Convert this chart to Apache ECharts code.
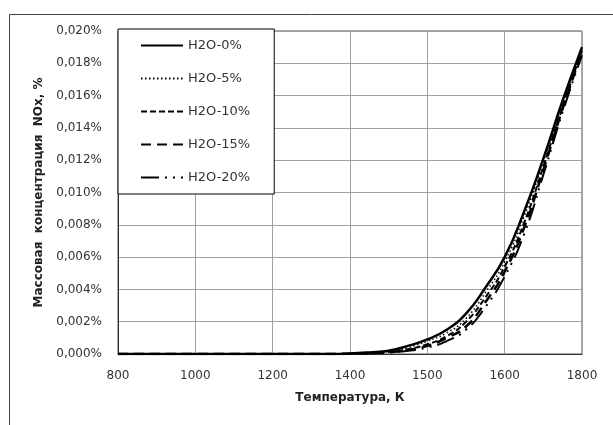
<!DOCTYPE html>
<html>
<head>
<meta charset="utf-8">
<script src="https://cdn.jsdelivr.net/npm/echarts@6/dist/echarts.min.js"></script>
<style>
html,body{margin:0;padding:0;background:#fff;}
#chart{width:613px;height:425px;}
</style>
</head>
<body>
<div id="chart"></div>
<script>
// Temperatures (category axis; labels shown every 4th category)
const temperatures = [800, 850, 900, 950, 1000, 1050, 1100, 1150, 1200, 1250, 1300, 1350,
  1400, 1425, 1450, 1475, 1500, 1525, 1550, 1575, 1600, 1650, 1700, 1750, 1800];

// NOx mass concentration, %
const h2o0  = [0,0,0,0,0,0,0,0,0,0,0,0, 0.00003, 0.0001,  0.0002,  0.0005,  0.0009, 0.0015, 0.0025, 0.0041, 0.0060, 0.0088, 0.0121, 0.0157, 0.0190];
const h2o5  = [0,0,0,0,0,0,0,0,0,0,0,0, 0.00002, 0.00008, 0.00016, 0.0004,  0.0008, 0.0013, 0.0022, 0.0038, 0.0057, 0.0085, 0.0119, 0.0155, 0.0189];
const h2o10 = [0,0,0,0,0,0,0,0,0,0,0,0, 0.00002, 0.00006, 0.00013, 0.0003,  0.0006, 0.0011, 0.0020, 0.0035, 0.0054, 0.0081, 0.0116, 0.0153, 0.0188];
const h2o15 = [0,0,0,0,0,0,0,0,0,0,0,0, 0.00002, 0.00005, 0.00011, 0.00025, 0.0005, 0.0010, 0.0017, 0.0032, 0.0051, 0.0078, 0.0114, 0.0152, 0.0187];
const h2o20 = [0,0,0,0,0,0,0,0,0,0,0,0, 0.00002, 0.00004, 0.0001,  0.0002,  0.0004, 0.0008, 0.0015, 0.0029, 0.0048, 0.0074, 0.0111, 0.0150, 0.0185];

const seriesNames = ['H2O-0%', 'H2O-5%', 'H2O-10%', 'H2O-15%', 'H2O-20%'];
const yTicks = [0, 0.002, 0.004, 0.006, 0.008, 0.010, 0.012, 0.014, 0.016, 0.018, 0.020];

const styles = [
  {width: 2.5, type: 'solid'},
  {width: 1.5, type: [1.5, 2.5]},
  {width: 2, type: [6, 3]},
  {width: 2.5, type: [10, 6]},
  {width: 2, type: [18, 6, 2, 6, 2, 6]}
];
const dataSets = [h2o0, h2o5, h2o10, h2o15, h2o20];

const FONT = 'DejaVu Sans';
const chart = echarts.init(document.getElementById('chart'), null, {renderer: 'canvas'});
chart.setOption({
  backgroundColor: '#fff',
  animation: false,
  textStyle: {fontFamily: FONT},
  graphic: [{
    type: 'rect', left: 7, top: 12, z: -10,
    shape: {width: 700, height: 500},
    style: {fill: 'none', stroke: '#444', lineWidth: 1}
  }],
  grid: {left: 118, right: 31, top: 31, bottom: 71, show: true, borderColor: '#555', borderWidth: 1, backgroundColor: 'transparent'},
  legend: {
    orient: 'vertical', left: 118, top: 29,
    data: seriesNames,
    itemWidth: 42, itemHeight: 14, itemGap: 20,
    padding: [10, 24, 10, 22],
    borderColor: '#000', borderWidth: 1, backgroundColor: '#fff',
    itemStyle: {opacity: 0},
    textStyle: {fontFamily: FONT, fontSize: 13, color: '#333'},
    z: 10
  },
  xAxis: {
    type: 'category', data: temperatures, boundaryGap: false,
    name: 'Температура, К', nameLocation: 'middle', nameGap: 38,
    nameTextStyle: {fontFamily: FONT, fontSize: 12, fontWeight: 'bold', color: '#222'},
    axisLine: {lineStyle: {color: '#333', width: 1}},
    axisTick: {show: false},
    axisLabel: {interval: 3, margin: 16, fontSize: 12, color: '#333', fontFamily: FONT},
    splitLine: {show: true, interval: 3, lineStyle: {color: '#a0a0a0', width: 1}}
  },
  yAxis: {
    type: 'value', min: 0, max: 0.02, interval: 0.002,
    name: 'Массовая  концентрация  NOx, %', nameLocation: 'middle', nameGap: 73, nameRotate: 90,
    nameTextStyle: {fontFamily: FONT, fontSize: 12, fontWeight: 'bold', color: '#222'},
    axisLine: {show: true, lineStyle: {color: '#333', width: 1}},
    axisTick: {show: false},
    axisLabel: {margin: 16, fontSize: 12, color: '#333', fontFamily: FONT,
      formatter: v => v.toFixed(3).replace('.', ',') + '%'},
    splitLine: {show: true, lineStyle: {color: '#a0a0a0', width: 1}}
  },
  series: seriesNames.map((n, k) => ({
    name: n, type: 'line', data: dataSets[k], symbol: 'none', showSymbol: false, smooth: 0.5,
    lineStyle: {color: '#000', width: styles[k].width, type: styles[k].type},
    itemStyle: {color: '#000'},
    z: 5 - k
  }))
});
</script>
</body>
</html>
